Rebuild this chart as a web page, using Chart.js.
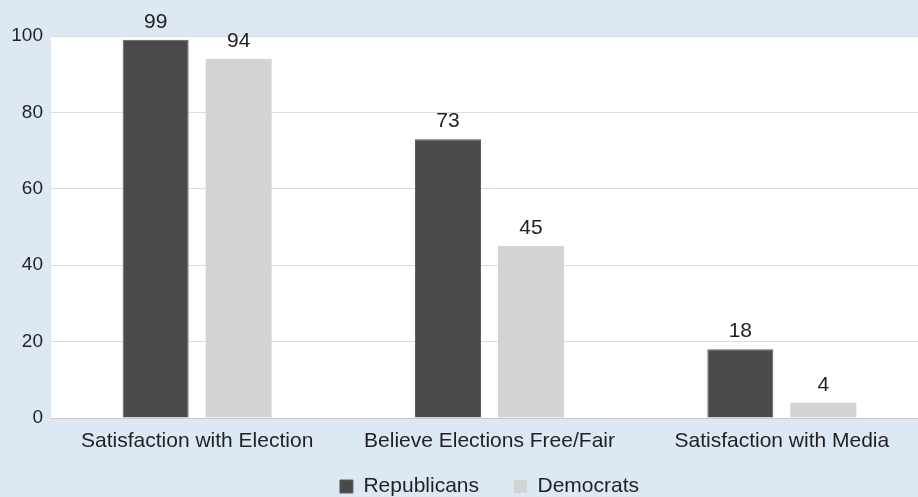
<!DOCTYPE html>
<html lang="en">
<head>
  <meta charset="UTF-8" />
  <title>Satisfaction by party</title>
  <script src="https://cdn.jsdelivr.net/npm/chart.js"></script>
  <style>
    html, body { margin: 0; padding: 0; background: #dde8f5; overflow: hidden; }
    /* the plot runs a little past the right edge of the picture */
    #wrap { width: 928px; height: 497px; position: relative; }
  </style>
</head>
<body>
  <div id="wrap"><canvas id="chart"></canvas></div>

  <script>
    const categories = ["Satisfaction with Election", "Believe Elections Free/Fair", "Satisfaction with Media"];
    const seriesNames = ["Republicans", "Democrats"];
    const republicans = [99, 73, 18];
    const democrats = [94, 45, 4];
    const yTicks = [0, 20, 40, 60, 80, 100];

    const FONT = "'Liberation Sans', Arial, Helvetica, sans-serif";
    const TEXT = "#231f20";

    // white plot area on the blue card
    const plotBg = {
      id: "plotBg",
      beforeDraw(chart) {
        const { ctx, chartArea: a } = chart;
        ctx.save();
        ctx.fillStyle = "#dde8f5";
        ctx.fillRect(0, 0, chart.width, chart.height);
        ctx.fillStyle = "#ffffff";
        ctx.fillRect(a.left, a.top, a.right - a.left, a.bottom - a.top);
        ctx.restore();
      }
    };

    // legend row sits closer to the axis labels than chart.js would put it
    const legendShift = {
      id: "legendShift",
      afterLayout(chart) {
        const lg = chart.legend;
        if (!lg) return;
        lg.top -= 17;
        lg.bottom -= 17;
      }
    };

    // value above every bar
    const valueLabels = {
      id: "valueLabels",
      afterDatasetsDraw(chart) {
        const ctx = chart.ctx;
        ctx.save();
        ctx.font = "21px " + FONT;
        ctx.fillStyle = TEXT;
        ctx.textAlign = "center";
        ctx.textBaseline = "alphabetic";
        chart.data.datasets.forEach((ds, i) => {
          chart.getDatasetMeta(i).data.forEach((bar, j) => {
            ctx.fillText(ds.data[j], bar.x, bar.y - 12);
          });
        });
        ctx.restore();
      }
    };

    new Chart(document.getElementById("chart"), {
      type: "bar",
      data: {
        labels: categories,
        datasets: [
          {
            label: seriesNames[0],
            data: republicans,
            backgroundColor: "#4a4a4b",
            borderColor: "#5c5c5d",
            borderWidth: 1,
            categoryPercentage: 0.568,
            barPercentage: 0.795
          },
          {
            label: seriesNames[1],
            data: democrats,
            backgroundColor: "#d2d3d4",
            categoryPercentage: 0.568,
            barPercentage: 0.795
          }
        ]
      },
      options: {
        responsive: true,
        maintainAspectRatio: false,
        animation: false,
        layout: { padding: { top: 36, right: 0, left: 0, bottom: -27 } },
        plugins: {
          tooltip: { enabled: false },
          legend: {
            position: "bottom",
            fullSize: false,
            labels: {
              boxWidth: 13,
              boxHeight: 13,
              padding: 35,
              color: TEXT,
              font: { family: FONT, size: 21 }
            }
          }
        },
        scales: {
          x: {
            grid: { display: false },
            border: { color: "#c9c9c9" },
            ticks: {
              color: TEXT,
              padding: 3,
              maxRotation: 0,
              autoSkip: false,
              font: { family: FONT, size: 21 }
            },
            afterFit(scale) { scale.height = 40; }
          },
          y: {
            min: 0,
            max: 100,
            border: { display: false },
            grid: { color: "#dcdcdc", drawTicks: false },
            afterBuildTicks(scale) { scale.ticks = yTicks.map(v => ({ value: v })); },
            ticks: {
              color: TEXT,
              padding: 8,
              font: { family: FONT, size: 19 }
            },
            afterFit(scale) { scale.width = 51; }
          }
        }
      },
      plugins: [plotBg, legendShift, valueLabels]
    });
  </script>
</body>
</html>
